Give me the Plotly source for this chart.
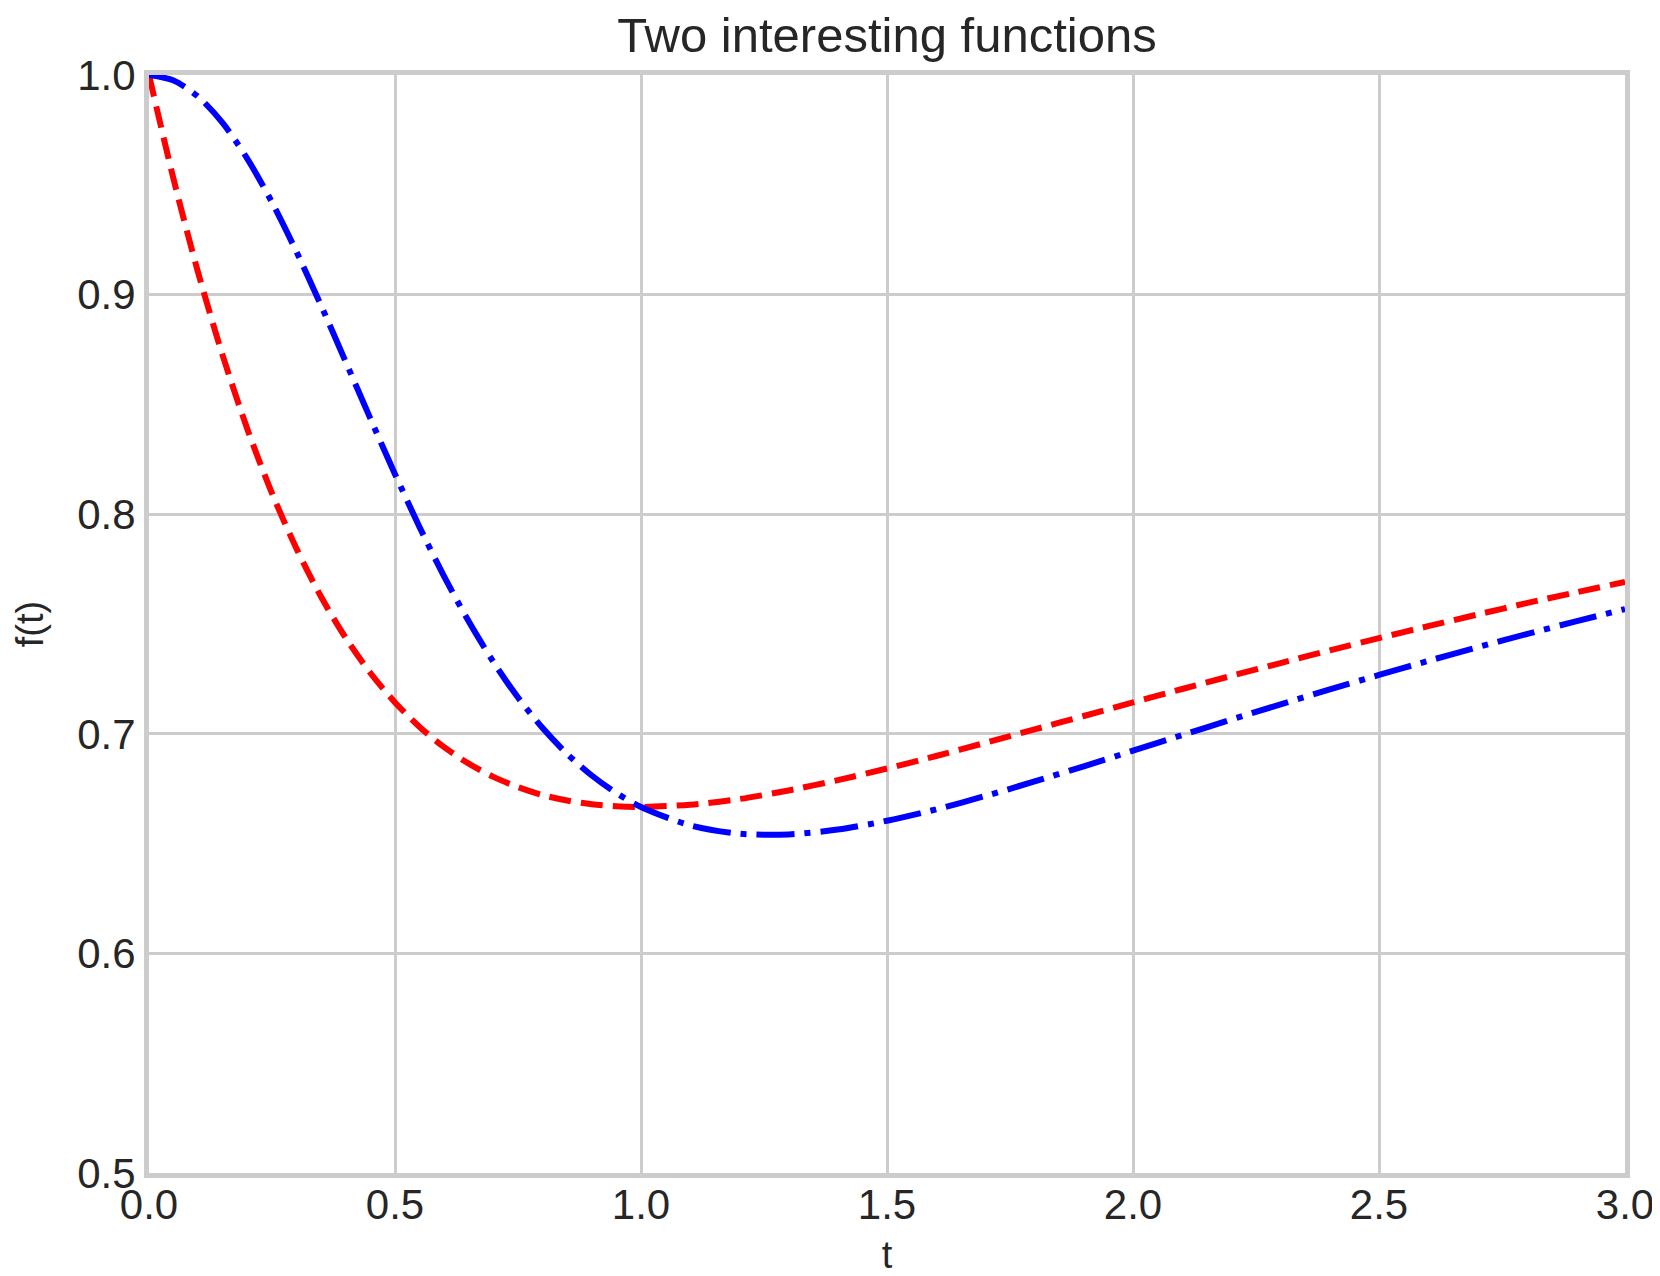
import plotly.graph_objects as go

# t sample points
t_values = [0.0, 0.05, 0.1, 0.15, 0.2, 0.25, 0.3, 0.35, 0.4, 0.45, 0.5, 0.55, 0.6, 0.65,
            0.7, 0.75, 0.8, 0.85, 0.9, 0.95, 1.0, 1.1, 1.2, 1.3, 1.4, 1.5, 1.6, 1.7,
            1.8, 1.9, 2.0, 2.1, 2.2, 2.3, 2.4, 2.5, 2.6, 2.7, 2.8, 2.9, 3.0]

# red dashed curve
red_values = [1.0, 0.9525, 0.9099, 0.8721, 0.8387, 0.8095, 0.7842, 0.7623, 0.7436, 0.7277,
              0.7143, 0.7031, 0.6939, 0.6864, 0.6804, 0.6757, 0.6721, 0.6696, 0.6679, 0.6670,
              0.6667, 0.6677, 0.6703, 0.6742, 0.6789, 0.6842, 0.6899, 0.6959, 0.7020, 0.7081,
              0.7143, 0.7204, 0.7264, 0.7322, 0.7380, 0.7436, 0.7490, 0.7543, 0.7595, 0.7644,
              0.7692]

# blue dash-dot curve
blue_values = [1.0, 0.9975, 0.9901, 0.9781, 0.9618, 0.9420, 0.9194, 0.8949, 0.8693, 0.8435,
               0.8182, 0.7941, 0.7716, 0.7511, 0.7327, 0.7165, 0.7026, 0.6908, 0.6810, 0.6730,
               0.6667, 0.6583, 0.6545, 0.6542, 0.6564, 0.6604, 0.6656, 0.6717, 0.6783, 0.6852,
               0.6923, 0.6994, 0.7065, 0.7134, 0.7202, 0.7268, 0.7332, 0.7394, 0.7454, 0.7512,
               0.7568]

x_ticks = [0.0, 0.5, 1.0, 1.5, 2.0, 2.5, 3.0]
y_ticks = [0.5, 0.6, 0.7, 0.8, 0.9, 1.0]

FONT = "Liberation Sans, Arial, Helvetica, sans-serif"
TEXT = "#262626"
GRID = "#cccccc"

fig = go.Figure()
fig.add_trace(go.Scatter(x=t_values, y=red_values, mode="lines",
                         line=dict(color="#ff0000", width=6, dash="22px,10px",
                                   shape="spline", smoothing=0.8),
                         showlegend=False))
fig.add_trace(go.Scatter(x=t_values, y=blue_values, mode="lines",
                         line=dict(color="#0000ff", width=6, dash="38px,10px,6px,10px",
                                   shape="spline", smoothing=0.8),
                         showlegend=False))

# the page body has an 8px margin, so the figure is sized to fit the window
W, H = 1652, 1268
fig.update_layout(
    width=W, height=H,
    margin=dict(l=141, r=35, t=67, b=103, autoexpand=False),
    paper_bgcolor="white", plot_bgcolor="white",
    font=dict(family=FONT, color=TEXT, size=42),
    title=dict(text="Two interesting functions", x=0.5, xref="paper", xanchor="center",
               y=1 - 27 / H, yref="container", yanchor="middle",
               font=dict(size=49, color=TEXT, family=FONT)),
)
fig.update_xaxes(range=[0, 3], tickvals=x_ticks, tickformat=".1f",
                 showgrid=True, gridcolor=GRID, gridwidth=3,
                 showline=True, linecolor=GRID, linewidth=5, mirror=True,
                 zeroline=False, ticks="", ticklabelstandoff=-9, automargin=False,
                 tickfont=dict(size=42, color=TEXT),
                 title=dict(text="t", font=dict(size=38, color=TEXT), standoff=16))
fig.update_yaxes(range=[0.5, 1.0], tickvals=y_ticks, tickformat=".1f",
                 showgrid=True, gridcolor=GRID, gridwidth=3,
                 showline=True, linecolor=GRID, linewidth=5, mirror=True,
                 zeroline=False, ticks="", ticklabelstandoff=0, automargin=False,
                 tickfont=dict(size=42, color=TEXT),
                 title=dict(text="f(t)", font=dict(size=38, color=TEXT), standoff=23))

fig.write_html("out.html")
